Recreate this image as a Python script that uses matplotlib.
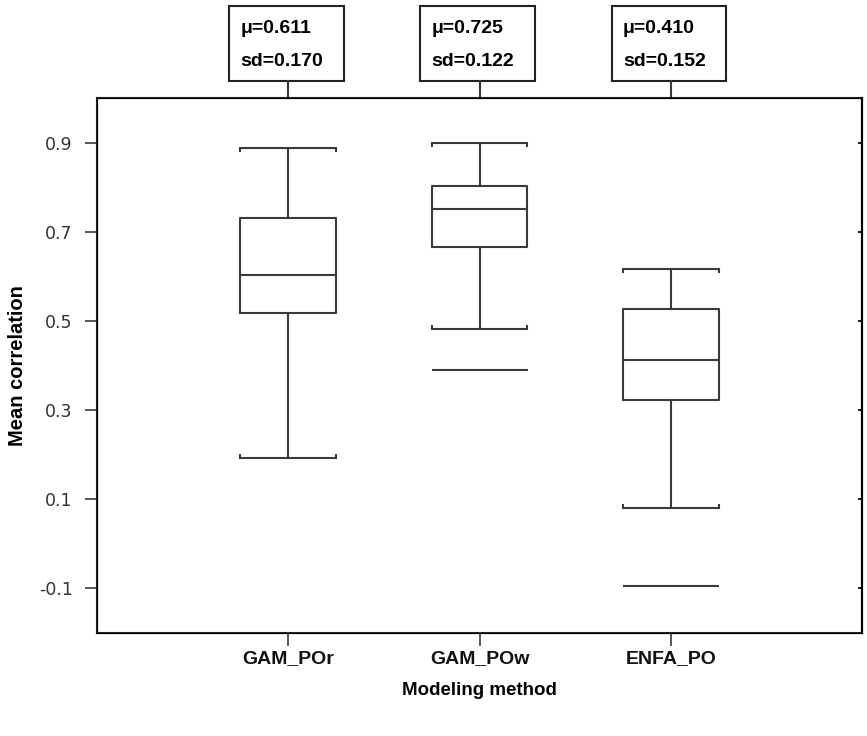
import matplotlib.pyplot as plt
from matplotlib.patches import Rectangle
from matplotlib.transforms import blended_transform_factory

# values
methods = ["GAM_POr", "GAM_POw", "ENFA_PO"]
whisk_hi = [0.887, 0.899, 0.617]
q3 = [0.730, 0.802, 0.526]
median = [0.602, 0.750, 0.413]
q1 = [0.518, 0.665, 0.322]
whisk_lo = [0.193, 0.481, 0.081]
outliers = [[], [0.389], [-0.095]]
means = ["0.611", "0.725", "0.410"]
sds = ["0.170", "0.122", "0.152"]
yticks = [-0.1, 0.1, 0.3, 0.5, 0.7, 0.9]

LINE = "#3a3a3a"
plt.rcParams['font.family'] = ['Liberation Sans', 'DejaVu Sans']


def display():
    fig = plt.figure(figsize=(8.67, 7.36), dpi=100)
    ax = fig.add_axes([0.1119, 0.140, 0.8824, 0.7269])

    stats = []
    for i, m in enumerate(methods):
        stats.append(dict(label=m, med=median[i], q1=q1[i], q3=q3[i],
                          whislo=whisk_lo[i], whishi=whisk_hi[i],
                          fliers=outliers[i]))
    pos = list(range(1, len(methods) + 1))
    lp = dict(color=LINE, linewidth=1.5)
    art = ax.bxp(stats, positions=pos, widths=0.5, capwidths=0.5,
                 boxprops=lp, medianprops=lp, whiskerprops=lp, capprops=lp,
                 flierprops=dict(marker="_", markersize=69,
                                 markeredgecolor=LINE, markeredgewidth=1.5))
    # small bracket ends on the caps
    for k, cap in enumerate(art["caps"]):
        cap.set_marker(2 if k % 2 == 0 else 3)
        cap.set_markersize(3)
        cap.set_markeredgewidth(1.5)
        cap.set_markeredgecolor(LINE)

    ax.set_xlim(0, 4)
    ax.set_ylim(-0.2, 1.0)
    ax.set_xticks(pos)
    ax.set_xticklabels(methods, fontsize=14, fontweight="bold", color="#111")
    ax.set_yticks(yticks)
    ax.set_yticklabels([f"{v:.1f}" for v in yticks], fontsize=12.5,
                       color="#333", family=["DejaVu Sans"])
    ax.tick_params(axis="x", direction="out", length=9.5, width=1.2,
                   color=LINE, pad=3, top=False)
    ax.tick_params(axis="y", direction="out", length=8.5, width=1.2,
                   color=LINE, pad=9)
    for s in ax.spines.values():
        s.set_linewidth(1.5)
        s.set_color("#222")

    ax2 = ax.twinx()
    ax2.set_ylim(ax.get_ylim())
    ax2.set_yticks(yticks)
    ax2.set_yticklabels([])
    ax2.tick_params(axis="y", direction="in", length=3, width=1.5, color="#222")
    ax2.spines["right"].set_linewidth(1.5)

    ax.set_xlabel("Modeling method", fontsize=13.5, fontweight="bold")
    ax.set_ylabel("Mean correlation", fontsize=14.5, fontweight="bold")
    ax.xaxis.set_label_coords(0.5, -0.092)
    ax.yaxis.set_label_coords(-0.092, 0.5)

    # summary boxes above each method
    tr = blended_transform_factory(ax.transData, ax.transAxes)
    for i, p in enumerate(pos):
        ax.plot([p, p], [1.0, 1.032], transform=tr, color=LINE,
                linewidth=1.5, clip_on=False)
        ax.add_patch(Rectangle((p - 0.31, 1.032), 0.6, 0.14, transform=tr,
                               fill=False, edgecolor="#222", linewidth=1.5,
                               clip_on=False))
        ax.text(p - 0.25, 1.13, "\u03bc=" + means[i], transform=tr,
                ha="left", va="center", fontsize=14, fontweight="bold")
        ax.text(p - 0.25, 1.069, "sd=" + sds[i], transform=tr,
                ha="left", va="center", fontsize=14, fontweight="bold")

    fig.savefig("out.png", dpi=100)


if __name__ == "__main__":
    display()
